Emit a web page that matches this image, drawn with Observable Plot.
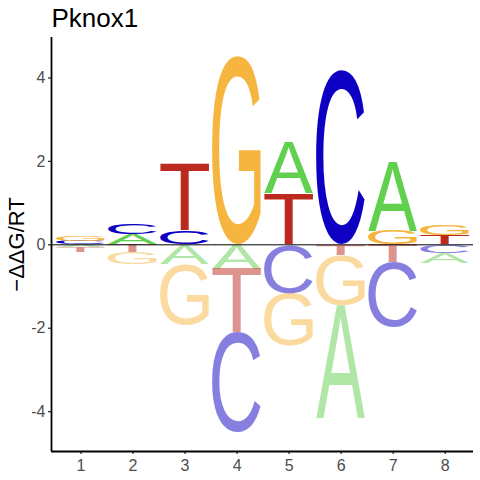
<!DOCTYPE html>
<html>
<head>
<meta charset="utf-8">
<script src="https://cdn.jsdelivr.net/npm/d3@7"></script>
<script src="https://cdn.jsdelivr.net/npm/@observablehq/plot@0.6"></script>
<style>
  html, body { margin: 0; padding: 0; background: white; }
</style>
</head>
<body>
<div id="chart"></div>
<script>
// ---- data ----
const title = "Pknox1";
const yLabel = "\u2212\u0394\u0394G/RT";
const positions = [1, 2, 3, 4, 5, 6, 7, 8];
const bases = ["A", "C", "G", "T"];
const energyA = [-0.07, 0.235, -0.46, -0.58, 1.24, -2.70, 1.67, -0.24];
const energyC = [0.08, 0.255, 0.31, -2.39, -1.18, 4.18, -1.55, -0.20];
const energyG = [0.13, -0.29, -1.46, 4.52, -1.26, -1.20, 0.33, 0.24];
const energyT = [-0.12, -0.18, 1.63, -1.54, 1.22, -0.26, -0.44, 0.22];
const yTicks = [-4, -2, 0, 2, 4];

// ---- styles ----
const baseColors = {A: "#61D04F", C: "#0E00C2", G: "#F5B53F", T: "#BC2A1F"};
const letterFont = "Liberation Sans, Arial, sans-serif";
const halfWidth = 0.47;

// ---- stacking ----
const energies = {A: energyA, C: energyC, G: energyG, T: energyT};
const rows = [];
positions.forEach((pos, i) => {
  const entries = bases.map(b => ({base: b, v: energies[b][i]}));
  const pos_ = entries.filter(e => e.v > 0).sort((a, b) => a.v - b.v);
  const neg_ = entries.filter(e => e.v < 0).sort((a, b) => b.v - a.v);
  let acc = 0;
  for (const e of pos_) { rows.push({pos, base: e.base, lo: acc, hi: acc + e.v, neg: false}); acc += e.v; }
  acc = 0;
  for (const e of neg_) { rows.push({pos, base: e.base, lo: acc + e.v, hi: acc, neg: true}); acc += e.v; }
});

// glyph ink metrics
const cv = document.createElement("canvas");
const ctx = cv.getContext("2d");
ctx.font = "100px 'Liberation Sans'";
ctx.textAlign = "left";
ctx.textBaseline = "alphabetic";
const metrics = {};
for (const b of bases) {
  const m = ctx.measureText(b);
  metrics[b] = {L: m.actualBoundingBoxLeft, R: m.actualBoundingBoxRight, A: m.actualBoundingBoxAscent, D: m.actualBoundingBoxDescent};
}

function logoMark(index, scales, values, dimensions, context) {
  const doc = (context && context.document) || document;
  const ns = "http://www.w3.org/2000/svg";
  const g = doc.createElementNS(ns, "g");
  g.setAttribute("text-anchor", "start");
  g.setAttribute("aria-label", "logo letters");
  for (const r of rows) {
    const x0 = scales.x(r.pos - halfWidth), x1 = scales.x(r.pos + halfWidth);
    const yTop = scales.y(r.hi), yBot = scales.y(r.lo);
    const m = metrics[r.base];
    const sx = (x1 - x0) / (m.L + m.R);
    const sy = (yBot - yTop) / (m.A + m.D);
    const t = doc.createElementNS(ns, "text");
    t.setAttribute("x", 0);
    t.setAttribute("y", 0);
    t.setAttribute("text-anchor", "start");
    t.setAttribute("dominant-baseline", "alphabetic");
    t.setAttribute("font-family", letterFont);
    t.setAttribute("font-size", 100);
    t.setAttribute("fill", baseColors[r.base]);
    if (r.neg) t.setAttribute("fill-opacity", 0.5);
    t.setAttribute("transform", `translate(${x0},${yTop}) scale(${sx},${sy}) translate(${m.L},${m.A})`);
    t.textContent = r.base;
    g.appendChild(t);
  }
  return g;
}

const xDomain = [0.433, 8.544];
const yDomain = [-4.955, 4.97];

const plot = Plot.plot({
  width: 480,
  height: 480,
  marginLeft: 51,
  marginRight: 7,
  marginTop: 37,
  marginBottom: 29,
  style: {fontFamily: "Liberation Sans, Arial, sans-serif", fontSize: "16px", color: "#4d4d4d", background: "white"},
  x: {domain: xDomain},
  y: {domain: yDomain},
  marks: [
    logoMark,
    Plot.ruleY([0], {stroke: "black", strokeWidth: 1}),
    Plot.axisX({ticks: positions, tickFormat: d => String(d), tickSize: 3, tickPadding: 5, fontSize: 16, fill: "#4d4d4d", stroke: "#333333", strokeWidth: 1.3, label: null}),
    Plot.axisY({ticks: yTicks, tickFormat: d => String(d), tickSize: 3, tickPadding: 3, fontSize: 16, fill: "#4d4d4d", stroke: "#333333", strokeWidth: 1.3, label: null}),
    Plot.ruleX([xDomain[0]], {stroke: "black", strokeWidth: 1.8}),
    Plot.ruleY([yDomain[0]], {stroke: "black", strokeWidth: 1.8}),
    Plot.text([title], {text: d => d, frameAnchor: "top-left", textAnchor: "start", lineAnchor: "bottom", dy: -10.3, fontSize: 26, fill: "black"}),
    Plot.text([yLabel], {text: d => d, frameAnchor: "left", textAnchor: "middle", lineAnchor: "middle", rotate: -90, dx: -34.5, fontSize: 22, fill: "black"})
  ]
});
document.getElementById("chart").appendChild(plot);
</script>
</body>
</html>
